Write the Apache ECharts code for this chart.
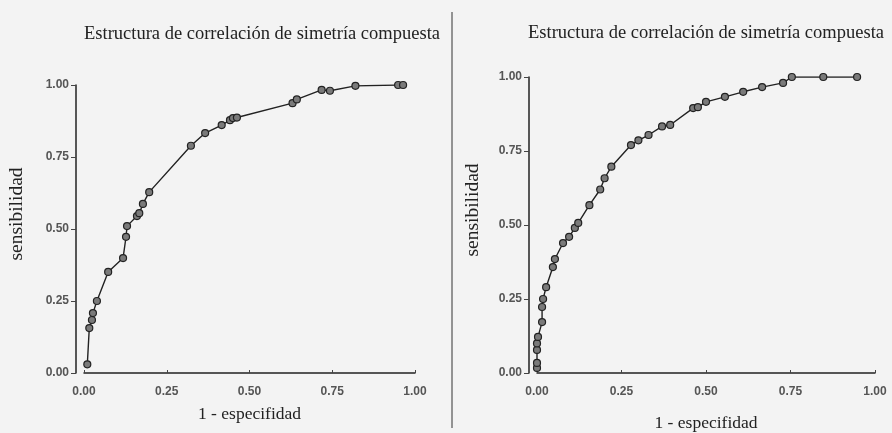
<!DOCTYPE html>
<html>
<head>
<meta charset="utf-8">
<script src="https://cdn.jsdelivr.net/npm/echarts@6/dist/echarts.min.js"></script>
<style>
html,body{margin:0;padding:0;background:#f3f3f3;}
#main{width:892px;height:433px;}
</style>
</head>
<body>
<div id="main"></div>
<script>
// ---- data ----
var titleText = 'Estructura de correlación de simetría compuesta';
var xAxisName = '1 - especifidad';
var yAxisName = 'sensibilidad';
var tickValues = [0, 0.25, 0.5, 0.75, 1];

var leftX = [0.010, 0.016, 0.024, 0.027, 0.039, 0.073, 0.118, 0.127, 0.130, 0.160, 0.167, 0.178, 0.197, 0.323, 0.366, 0.416, 0.441, 0.450, 0.462, 0.630, 0.643, 0.718, 0.743, 0.820, 0.949, 0.964];
var leftY = [0.030, 0.156, 0.184, 0.208, 0.250, 0.351, 0.399, 0.473, 0.510, 0.545, 0.555, 0.587, 0.628, 0.789, 0.833, 0.861, 0.878, 0.885, 0.887, 0.937, 0.950, 0.983, 0.980, 0.997, 1.000, 1.000];

var rightX = [0.000, 0.000, 0.000, 0.000, 0.003, 0.015, 0.015, 0.018, 0.027, 0.047, 0.053, 0.077, 0.095, 0.112, 0.122, 0.155, 0.187, 0.200, 0.220, 0.278, 0.300, 0.330, 0.370, 0.394, 0.462, 0.476, 0.500, 0.556, 0.610, 0.666, 0.728, 0.754, 0.847, 0.947];
var rightY = [0.017, 0.034, 0.078, 0.100, 0.122, 0.172, 0.223, 0.250, 0.290, 0.358, 0.385, 0.439, 0.460, 0.490, 0.507, 0.567, 0.620, 0.658, 0.697, 0.770, 0.786, 0.804, 0.833, 0.838, 0.895, 0.898, 0.916, 0.933, 0.950, 0.966, 0.980, 1.000, 1.000, 1.000];

function pairs(xs, ys) { return xs.map(function (x, i) { return [x, ys[i]]; }); }

var serif = '"Liberation Serif", "DejaVu Serif", serif';
var sans = '"Liberation Sans", Arial, sans-serif';

function fmt(v) { return v.toFixed(2); }

function xAxisCfg(gi, nameGap) {
  return {
    type: 'value', gridIndex: gi, min: 0, max: 1, interval: 0.25,
    name: xAxisName, nameLocation: 'middle', nameGap: nameGap,
    nameTextStyle: { fontFamily: serif, fontSize: 17.5, color: '#222' },
    axisLine: { show: true, onZero: false, lineStyle: { color: '#222', width: 1.5 } },
    axisTick: { show: true, inside: true, length: 3, lineStyle: { color: '#444' } },
    axisLabel: { fontFamily: sans, fontSize: 12, fontWeight: 'bold', color: '#555', margin: 13, formatter: fmt },
    splitLine: { show: false }
  };
}
function yAxisCfg(gi, nameGap) {
  return {
    type: 'value', gridIndex: gi, min: 0, max: 1, interval: 0.25, offset: 8,
    name: yAxisName, nameLocation: 'middle', nameGap: nameGap, nameRotate: 90,
    nameTextStyle: { fontFamily: serif, fontSize: 19.5, color: '#222', padding: [0, 0, 0, 30] },
    axisLine: { show: true, onZero: false, lineStyle: { color: '#222', width: 1.5 } },
    axisTick: { show: true, inside: false, length: 5, lineStyle: { color: '#444' } },
    axisLabel: { fontFamily: sans, fontSize: 12, fontWeight: 'bold', color: '#555', margin: 7, formatter: fmt },
    splitLine: { show: false }
  };
}
function seriesCfg(gi, data) {
  return {
    type: 'line', xAxisIndex: gi, yAxisIndex: gi, data: data,
    symbol: 'circle', symbolSize: 7, showSymbol: true,
    lineStyle: { color: '#222', width: 1.4 },
    itemStyle: { color: '#7a7a7a', borderColor: '#222', borderWidth: 1.2 },
    animation: false
  };
}

var chart = echarts.init(document.getElementById('main'), null, { renderer: 'canvas' });
chart.setOption({
  backgroundColor: '#f3f3f3',
  animation: false,
  title: [
    { text: titleText, left: 257, top: 20, textAlign: 'center',
      textStyle: { fontFamily: serif, fontSize: 18.5, fontWeight: 'normal', color: '#222' } },
    { text: titleText, left: 701, top: 19, textAlign: 'center',
      textStyle: { fontFamily: serif, fontSize: 18.5, fontWeight: 'normal', color: '#222' } }
  ],
  grid: [
    { left: 84, top: 85, width: 331, height: 288, outerBoundsMode: 'none', containLabel: false },
    { left: 537, top: 77, width: 338, height: 296, outerBoundsMode: 'none', containLabel: false }
  ],
  xAxis: [xAxisCfg(0, 32), xAxisCfg(1, 41)],
  yAxis: [yAxisCfg(0, 49), yAxisCfg(1, 46)],
  series: [seriesCfg(0, pairs(leftX, leftY)), seriesCfg(1, pairs(rightX, rightY))],
  graphic: [
    { type: 'line', shape: { x1: 452, y1: 12, x2: 452, y2: 428 },
      style: { stroke: '#333', lineWidth: 1 } }
  ]
});
</script>
</body>
</html>
